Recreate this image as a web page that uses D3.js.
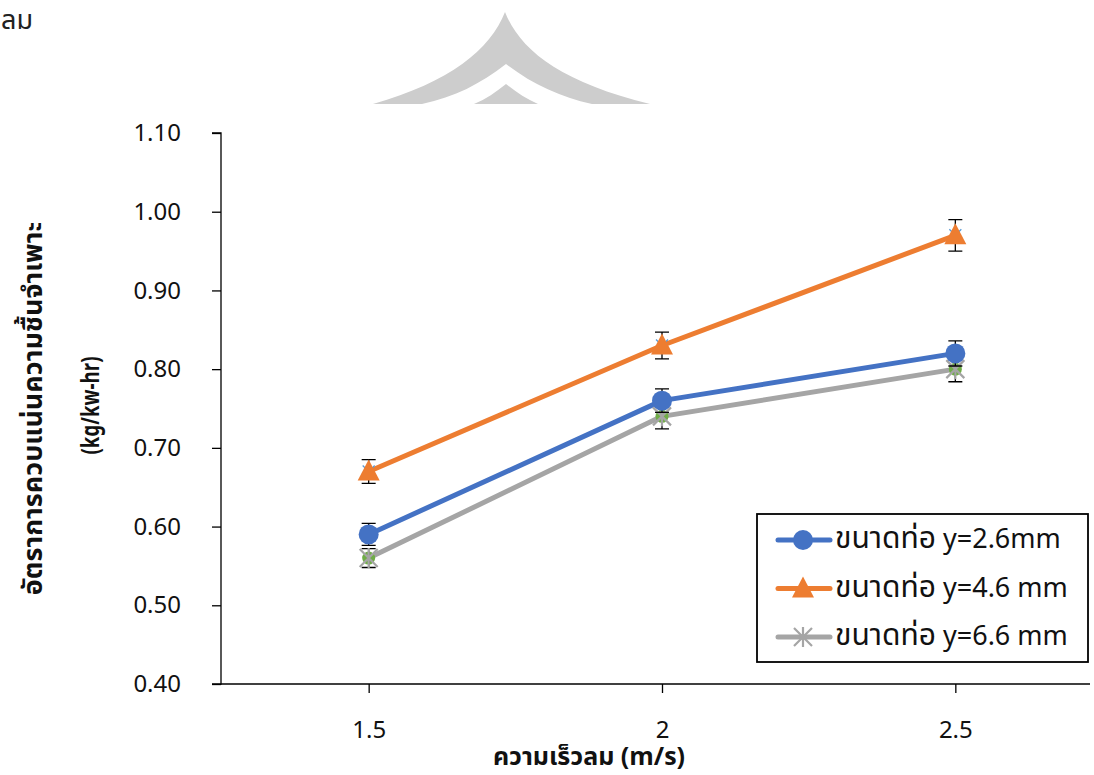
<!DOCTYPE html>
<html><head><meta charset="utf-8">
<script src="https://cdn.jsdelivr.net/npm/d3@7"></script>
<style>body{margin:0;background:#fff}svg{display:block}text{font-family:"Noto Sans Thai","Noto Sans","Open Sans",sans-serif}</style>
</head><body>
<script>
const categories = ["1.5","2","2.5"];
const seriesThai = ["ขนาดท่อ","ขนาดท่อ","ขนาดท่อ"];
const seriesLatin = ["y=2.6mm","y=4.6 mm","y=6.6 mm"];
const blueValues = [0.59,0.76,0.82];
const orangeValues = [0.67,0.83,0.97];
const grayValues = [0.56,0.74,0.80];
const blueErr = [0.014,0.015,0.016];
const orangeErr = [0.015,0.017,0.02];
const grayErr = [0.012,0.016,0.016];
const yTicks = [0.40,0.50,0.60,0.70,0.80,0.90,1.00,1.10];
const xTitle = "ความเร็วลม (m/s)";
const yTitle1 = "อัตราการควบแน่นความชื้นจำเพาะ";
const yTitle2 = "(kg/kw-hr)";
const cornerText = "ลม";

const W=1094,H=775;
const L=221,R=1101,T=133,B=684;
const svg=d3.select("body").append("svg").attr("width",W).attr("height",H);

// watermark
const wm=svg.append("g");
wm.append("path").attr("d","M505,12 C520,50 560,82 650,104 L373,104 C450,82 490,50 505,12 Z").attr("fill","#cdcdcd");
wm.append("path").attr("d","M506,64 C480,84 455,97 422,104 L592,104 C560,97 532,84 506,64 Z").attr("fill","#fff");
wm.append("path").attr("d","M506,84 C496,92 486,99 474,104 L538,104 C526,99 516,92 506,84 Z").attr("fill","#cdcdcd");

svg.append("text").attr("x",1).attr("y",29).attr("font-size",27).attr("fill","#222").text(cornerText);

const x=d3.scalePoint().domain(categories).range([L+1,R+1]).padding(0.5);
const y=d3.scaleLinear().domain([0.4,1.1]).range([B,T]);

// axes
const yAx=svg.append("g").attr("transform",`translate(${L},0)`)
  .call(d3.axisLeft(y).tickValues(yTicks).tickFormat(d3.format(".2f")).tickSize(9).tickPadding(31));
yAx.select(".domain").attr("stroke","#000").attr("stroke-width",1.3).attr("d",`M-9,${T}H0V${B}H-9`);
yAx.selectAll(".tick line").attr("stroke","#000").attr("stroke-width",1.3);
yAx.selectAll("text").attr("font-size",24).attr("fill","#111");

const xAx=svg.append("g").attr("transform",`translate(0,${B})`)
  .call(d3.axisBottom(x).tickSize(9).tickPadding(28));
xAx.select(".domain").attr("stroke","#000").attr("stroke-width",1.3).attr("d",`M${L},0H1090`);
xAx.selectAll(".tick line").attr("stroke","#000").attr("stroke-width",1.3);
xAx.selectAll("text").attr("font-size",24).attr("fill","#111");

// titles
svg.append("text").attr("x",589).attr("y",765).attr("text-anchor","middle").attr("font-size",25).attr("font-weight","bold").attr("fill","#111").text(xTitle);
svg.append("text").attr("transform",`translate(42,${(T+B)/2}) rotate(-90)`).attr("text-anchor","middle").attr("font-size",27).attr("font-weight","bold").attr("fill","#111").text(yTitle1);
svg.append("text").attr("transform",`translate(99,${(T+B)/2 - 3}) rotate(-90)`).attr("text-anchor","middle").attr("font-size",25).attr("font-weight","bold").attr("fill","#111")
  .attr("textLength",98).attr("lengthAdjust","spacingAndGlyphs").text(yTitle2);

const series=[
 {vals:blueValues,err:blueErr,color:"#4472C4",marker:"circle"},
 {vals:orangeValues,err:orangeErr,color:"#ED7D31",marker:"triangle"},
 {vals:grayValues,err:grayErr,color:"#A5A5A5",marker:"star"}
];
const line=d3.line().x((d,i)=>x(categories[i])).y(d=>y(d));

function drawMarker(g,type,cx,cy,color){
  if(type==="circle") g.append("circle").attr("cx",cx).attr("cy",cy).attr("r",10).attr("fill",color);
  else if(type==="triangle") g.append("path").attr("d",`M${cx},${cy-12}L${cx+11},${cy+9}L${cx-11},${cy+9}Z`).attr("fill",color);
  else {
    const s=9;
    g.append("path").attr("d",`M${cx-s},${cy-s}L${cx+s},${cy+s}M${cx-s},${cy+s}L${cx+s},${cy-s}M${cx},${cy-s-1}L${cx},${cy+s+1}`).attr("stroke",color).attr("stroke-width",2.2).attr("fill","none");
  }
}

// lines (gray below)
[2,0,1].forEach(k=>{
  const s=series[k];
  svg.append("path").datum(s.vals).attr("d",line).attr("fill","none").attr("stroke",s.color).attr("stroke-width",5).attr("stroke-linejoin","round");
});
// hidden underlying markers
const under=svg.append("g");
grayValues.forEach((v,i)=>under.append("circle").attr("cx",x(categories[i])).attr("cy",y(v)).attr("r",6.5).attr("fill","#70AD47"));
orangeValues.forEach((v,i)=>{const cx=x(categories[i]),cy=y(v);
  under.append("path").attr("d",`M${cx-6},${cy-6}L${cx+6},${cy+6}M${cx-6},${cy+6}L${cx+6},${cy-6}`).attr("stroke","#5B9BD5").attr("stroke-width",1.3);});
// error bars + markers
[2,0,1].forEach(k=>{
  const s=series[k];
  const g=svg.append("g");
  s.vals.forEach((v,i)=>{
    const cx=x(categories[i]);
    g.append("path").attr("d",`M${cx},${y(v+s.err[i])}V${y(v-s.err[i])}M${cx-7},${y(v+s.err[i])}H${cx+7}M${cx-7},${y(v-s.err[i])}H${cx+7}`).attr("stroke","#000").attr("stroke-width",1.3).attr("fill","none");
  });
  s.vals.forEach((v,i)=>drawMarker(g,s.marker,x(categories[i]),y(v),s.color));
});

// legend
const lg=svg.append("g");
lg.append("rect").attr("x",757).attr("y",514).attr("width",331).attr("height",148).attr("fill","#fff").attr("stroke","#000").attr("stroke-width",1.8);
series.forEach((s,i)=>{
  const cy=540+i*48.5;
  lg.append("line").attr("x1",778).attr("x2",830).attr("y1",cy).attr("y2",cy).attr("stroke",s.color).attr("stroke-width",5).attr("stroke-linecap","round");
  drawMarker(lg,s.marker,803,cy,s.color);
  const t=lg.append("text").attr("x",835).attr("y",cy+8).attr("fill","#111");
  t.append("tspan").attr("font-size",30).text(seriesThai[i]);
  t.append("tspan").attr("font-size",27).text(" "+seriesLatin[i]);
});
</script>
</body></html>
